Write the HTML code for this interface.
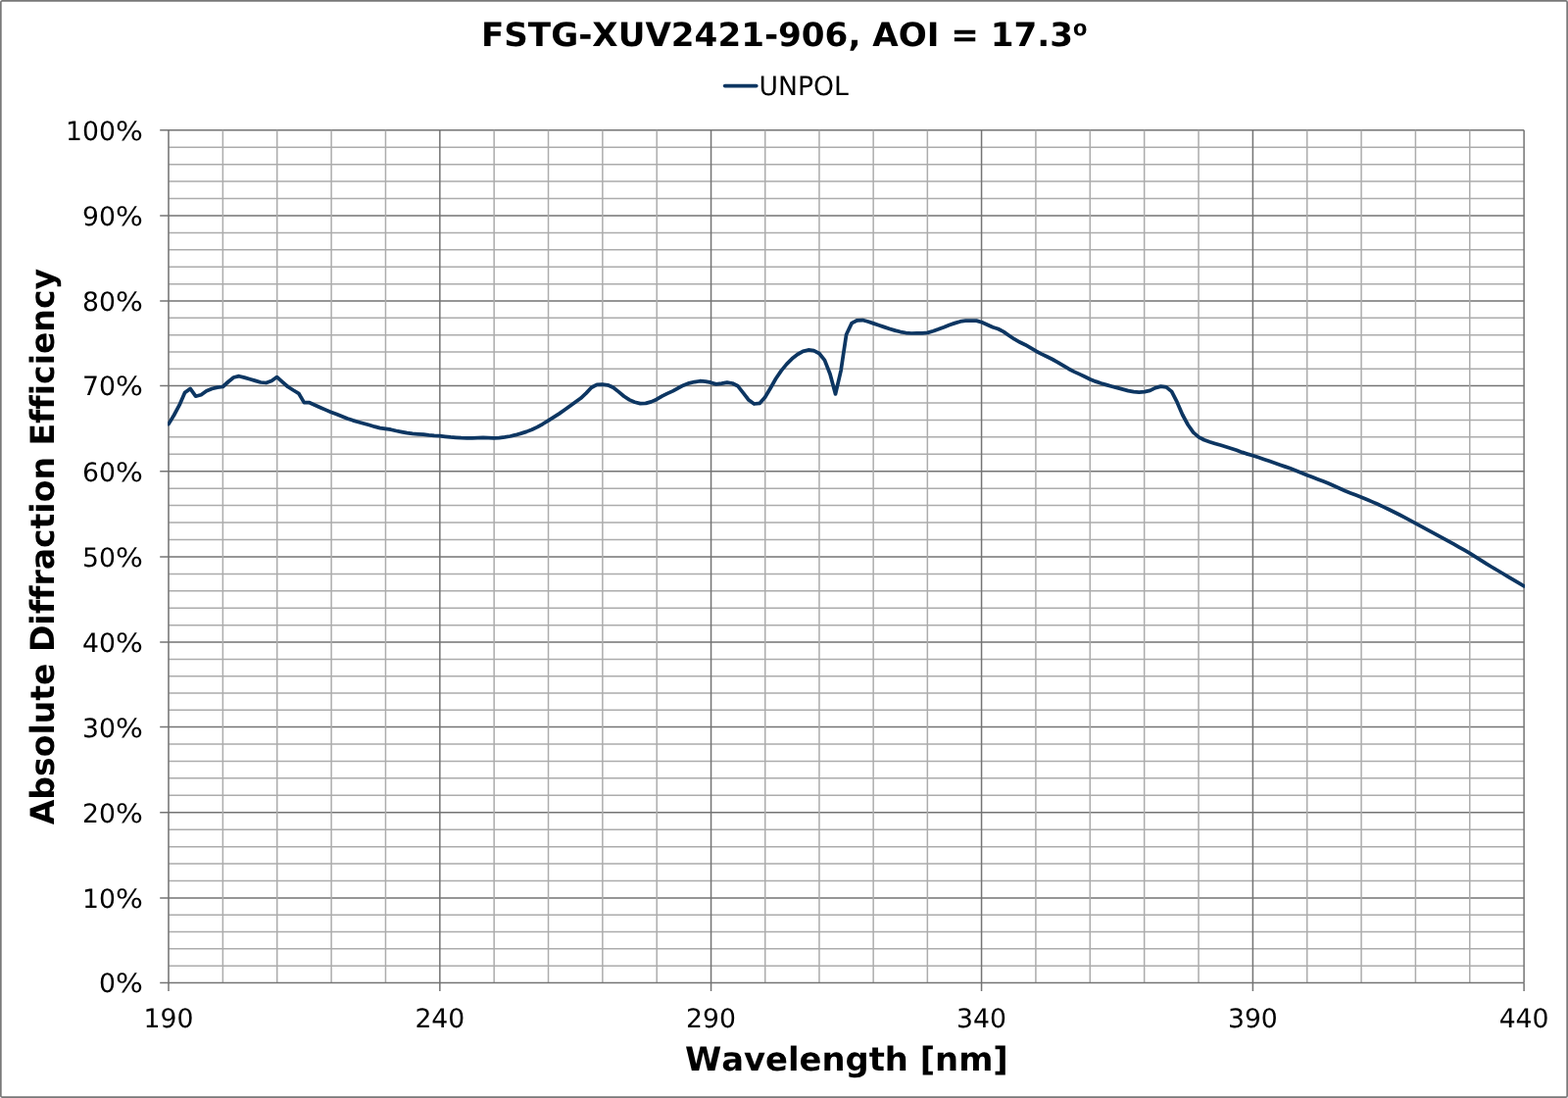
<!DOCTYPE html>
<html lang="en">
<head>
<meta charset="utf-8">
<title>FSTG-XUV2421-906, AOI = 17.3º</title>
<style>
html,body{margin:0;padding:0;background:#fff;}
body{width:1600px;height:1120px;overflow:hidden;}
svg{display:block;}
text{font-family:"DejaVu Sans","Liberation Sans",sans-serif;fill:#000;text-rendering:geometricPrecision;font-variant-ligatures:none;font-kerning:none;}
.t{font-size:26.67px;}
.b{font-size:33.5px;font-weight:bold;}
.ord{font-family:"Liberation Sans","DejaVu Sans",sans-serif;font-size:38px;}
</style>
</head>
<body>
<svg width="1600" height="1120" viewBox="0 0 1600 1120">
<rect x="0" y="0" width="1600" height="1120" fill="#fff"/>
<!-- chart border -->
<rect x="0.85" y="0.85" width="1598.3" height="1118.3" rx="1.5" fill="none" stroke="#787878" stroke-width="1.7"/>
<!-- gridlines -->
<g fill="none">
<path d="M172.0 985.13H1555.1M172.0 967.83H1555.1M172.0 950.54H1555.1M172.0 933.24H1555.1M172.0 898.51H1555.1M172.0 881.07H1555.1M172.0 863.63H1555.1M172.0 846.19H1555.1M172.0 811.31H1555.1M172.0 793.87H1555.1M172.0 776.43H1555.1M172.0 758.99H1555.1M172.0 724.26H1555.1M172.0 706.97H1555.1M172.0 689.68H1555.1M172.0 672.39H1555.1M172.0 637.67H1555.1M172.0 620.24H1555.1M172.0 602.81H1555.1M172.0 585.38H1555.1M172.0 550.50H1555.1M172.0 533.05H1555.1M172.0 515.60H1555.1M172.0 498.15H1555.1M172.0 463.26H1555.1M172.0 445.82H1555.1M172.0 428.38H1555.1M172.0 410.94H1555.1M172.0 376.21H1555.1M172.0 358.92H1555.1M172.0 341.63H1555.1M172.0 324.34H1555.1M172.0 289.63H1555.1M172.0 272.22H1555.1M172.0 254.80H1555.1M172.0 237.39H1555.1M172.0 202.54H1555.1M172.0 185.10H1555.1M172.0 167.67H1555.1M172.0 150.23H1555.1" stroke="#acacac" stroke-width="1.5"/>
<path d="M172.0 915.95H1555.1M172.0 828.75H1555.1M172.0 741.55H1555.1M172.0 655.10H1555.1M172.0 567.95H1555.1M172.0 480.70H1555.1M172.0 393.50H1555.1M172.0 307.05H1555.1M172.0 219.97H1555.1M172.0 132.80H1555.1" stroke="#747474" stroke-width="1.5"/>
<path d="M227.37 132.8V1002.42M282.73 132.8V1002.42M338.10 132.8V1002.42M393.46 132.8V1002.42M504.17 132.8V1002.42M559.52 132.8V1002.42M614.86 132.8V1002.42M670.21 132.8V1002.42M780.75 132.8V1002.42M835.95 132.8V1002.42M891.15 132.8V1002.42M946.35 132.8V1002.42M1056.92 132.8V1002.42M1112.29 132.8V1002.42M1167.66 132.8V1002.42M1223.03 132.8V1002.42M1333.74 132.8V1002.42M1389.08 132.8V1002.42M1444.42 132.8V1002.42M1499.76 132.8V1002.42" stroke="#acacac" stroke-width="1.5"/>
<path d="M448.83 132.8V1002.42M725.55 132.8V1002.42M1001.55 132.8V1002.42M1278.40 132.8V1002.42M1555.10 132.8V1002.42" stroke="#747474" stroke-width="1.5"/>
<path d="M172.0 132.05V1003.17" stroke="#747474" stroke-width="1.55"/>
<path d="M172.0 1002.42H1555.1M163.2 1002.42H172.0M163.2 915.95H172.0M163.2 828.75H172.0M163.2 741.55H172.0M163.2 655.10H172.0M163.2 567.95H172.0M163.2 480.70H172.0M163.2 393.50H172.0M163.2 307.05H172.0M163.2 219.97H172.0M163.2 132.80H172.0M172.00 1002.42V1010.92M448.83 1002.42V1010.92M725.55 1002.42V1010.92M1001.55 1002.42V1010.92M1278.40 1002.42V1010.92M1555.10 1002.42V1010.92" stroke="#747474" stroke-width="1.5"/>
</g>
<!-- series: UNPOL -->
<clipPath id="plot"><rect x="171.1" y="132.8" width="1384.8999999999999" height="869.6199999999999"/></clipPath>
<path d="M172.00 432.60L177.53 423.50L183.07 413.20L188.60 400.60L194.13 396.40L199.66 404.20L205.20 402.80L210.73 398.80L216.26 396.50L221.80 395.10L227.33 394.50L232.86 389.50L238.39 385.00L243.93 383.70L249.46 385.10L254.99 386.70L260.52 388.40L266.06 390.00L271.59 390.50L277.12 388.60L282.66 384.60L288.19 389.60L293.72 394.50L299.25 398.00L304.79 401.30L310.32 410.60L315.85 410.70L321.39 413.20L326.92 415.68L332.45 418.11L337.98 420.40L343.52 422.45L349.05 424.75L354.58 427.05L360.12 428.84L365.65 430.43L371.18 432.00L376.71 433.53L382.25 435.19L387.78 436.56L393.31 437.33L398.84 438.22L404.38 439.50L409.91 440.63L415.44 441.71L420.98 442.48L426.51 442.76L432.04 443.08L437.57 443.85L443.11 444.35L448.64 444.59L454.17 445.30L459.71 445.98L465.24 446.40L470.77 446.73L476.30 446.89L481.84 446.79L487.37 446.51L492.90 446.42L498.44 446.70L503.97 446.90L509.50 446.57L515.03 445.86L520.57 444.98L526.10 443.70L531.63 442.14L537.16 440.37L542.70 438.19L548.23 435.65L553.76 432.51L559.30 429.12L564.83 425.69L570.36 422.10L575.89 418.28L581.43 414.28L586.96 410.27L592.49 406.28L598.03 401.10L603.56 395.26L609.09 392.37L614.62 392.10L620.16 392.80L625.69 395.29L631.22 399.64L636.76 404.30L642.29 407.89L647.82 410.20L653.35 411.58L658.89 411.40L664.42 409.88L669.95 407.47L675.48 404.17L681.02 401.38L686.55 398.87L692.08 395.77L697.62 392.90L703.15 390.81L708.68 389.52L714.21 388.74L719.75 389.05L725.28 390.20L730.81 391.88L736.35 391.13L741.88 390.12L747.41 391.00L752.94 393.79L758.48 400.80L764.01 408.06L769.54 412.00L775.08 411.39L780.61 405.22L786.14 395.93L791.67 386.25L797.21 378.09L802.74 371.32L808.27 365.82L813.80 361.50L819.34 358.42L824.87 356.96L830.40 357.70L835.94 360.50L841.47 367.31L847.00 381.54L852.53 401.90L858.07 378.08L863.60 341.20L869.13 329.57L874.67 326.79L880.20 326.53L885.73 328.05L891.26 329.88L896.80 331.73L902.33 333.63L907.86 335.41L913.40 337.15L918.93 338.53L924.46 339.52L929.99 340.00L935.53 339.96L941.06 339.85L946.59 339.38L952.12 337.79L957.66 335.84L963.19 333.75L968.72 331.47L974.26 329.62L979.79 327.92L985.32 327.23L990.85 327.13L996.39 327.14L1001.92 328.79L1007.45 331.27L1012.99 333.77L1018.52 335.51L1024.05 338.40L1029.58 342.19L1035.12 345.98L1040.65 349.02L1046.18 351.72L1051.72 354.92L1057.25 358.23L1062.78 361.10L1068.31 363.76L1073.85 366.49L1079.38 369.58L1084.91 372.94L1090.44 376.22L1095.98 379.09L1101.51 381.60L1107.04 384.21L1112.58 386.97L1118.11 389.13L1123.64 390.94L1129.17 392.59L1134.71 394.19L1140.24 395.68L1145.77 397.11L1151.31 398.57L1156.84 399.56L1162.37 400.09L1167.90 399.61L1173.44 398.32L1178.97 395.63L1184.50 394.10L1190.04 394.84L1195.57 399.38L1201.10 410.16L1206.63 422.99L1212.17 433.26L1217.70 441.15L1223.23 445.85L1228.76 448.78L1234.30 450.68L1239.83 452.42L1245.36 454.06L1250.90 455.73L1256.43 457.43L1261.96 459.29L1267.49 461.39L1273.03 463.15L1278.56 464.77L1284.09 466.53L1289.63 468.42L1295.16 470.34L1300.69 472.28L1306.22 474.20L1311.76 476.12L1317.29 478.08L1322.82 480.14L1328.36 482.39L1333.89 484.69L1339.42 486.84L1344.95 488.90L1350.49 490.99L1356.02 493.23L1361.55 495.71L1367.08 498.29L1372.62 500.77L1378.15 503.00L1383.68 505.07L1389.22 507.20L1394.75 509.49L1400.28 511.86L1405.81 514.33L1411.35 516.88L1416.88 519.51L1422.41 522.21L1427.95 525.00L1433.48 527.91L1439.01 530.88L1444.54 533.86L1450.08 536.82L1455.61 539.80L1461.14 542.79L1466.68 545.80L1472.21 548.83L1477.74 551.87L1483.27 554.94L1488.81 558.03L1494.34 561.13L1499.87 564.34L1505.40 567.79L1510.94 571.38L1516.47 574.89L1522.00 578.23L1527.54 581.50L1533.07 584.75L1538.60 588.01L1544.13 591.30L1549.67 594.60L1555.20 597.90" clip-path="url(#plot)" stroke="#0d3662" stroke-width="3.75" fill="none" stroke-linejoin="round" stroke-linecap="round"/>
<!-- title -->
<text class="b" transform="translate(490.9 47) scale(1.0196 1)">FSTG-XUV2421-906, AOI = 17.3<tspan class="ord" dy="3">º</tspan></text>
<!-- legend -->
<path d="M739.7 87.55H771.7" stroke="#0d3662" stroke-width="3.75" stroke-linecap="round" fill="none"/>
<text class="t" x="774.5" y="97.2">UNPOL</text>
<!-- value axis labels -->
<text class="t" x="101.03" y="1012.37">0<tspan textLength="27.9" lengthAdjust="spacingAndGlyphs">%</tspan></text>
<text class="t" x="84.06" y="925.90">10<tspan textLength="27.9" lengthAdjust="spacingAndGlyphs">%</tspan></text>
<text class="t" x="84.06" y="838.70">20<tspan textLength="27.9" lengthAdjust="spacingAndGlyphs">%</tspan></text>
<text class="t" x="84.06" y="751.50">30<tspan textLength="27.9" lengthAdjust="spacingAndGlyphs">%</tspan></text>
<text class="t" x="84.06" y="665.05">40<tspan textLength="27.9" lengthAdjust="spacingAndGlyphs">%</tspan></text>
<text class="t" x="84.06" y="577.90">50<tspan textLength="27.9" lengthAdjust="spacingAndGlyphs">%</tspan></text>
<text class="t" x="84.06" y="490.65">60<tspan textLength="27.9" lengthAdjust="spacingAndGlyphs">%</tspan></text>
<text class="t" x="84.06" y="403.45">70<tspan textLength="27.9" lengthAdjust="spacingAndGlyphs">%</tspan></text>
<text class="t" x="84.06" y="317.00">80<tspan textLength="27.9" lengthAdjust="spacingAndGlyphs">%</tspan></text>
<text class="t" x="84.06" y="229.92">90<tspan textLength="27.9" lengthAdjust="spacingAndGlyphs">%</tspan></text>
<text class="t" x="67.10" y="142.75">100<tspan textLength="27.9" lengthAdjust="spacingAndGlyphs">%</tspan></text>
<!-- category axis labels -->
<text class="t" x="172.00" y="1047.8" text-anchor="middle">190</text>
<text class="t" x="448.83" y="1047.8" text-anchor="middle">240</text>
<text class="t" x="725.55" y="1047.8" text-anchor="middle">290</text>
<text class="t" x="1001.55" y="1047.8" text-anchor="middle">340</text>
<text class="t" x="1278.40" y="1047.8" text-anchor="middle">390</text>
<text class="t" x="1555.10" y="1047.8" text-anchor="middle">440</text>
<!-- axis titles -->
<text class="b" transform="translate(699.0 1091.5) scale(1.00833 1)">Wavelength [nm]</text>
<text class="b" transform="translate(55.3 841.2) rotate(-90) scale(0.98616 1)">Absolute Diffraction Efficiency</text>
</svg>
</body>
</html>
